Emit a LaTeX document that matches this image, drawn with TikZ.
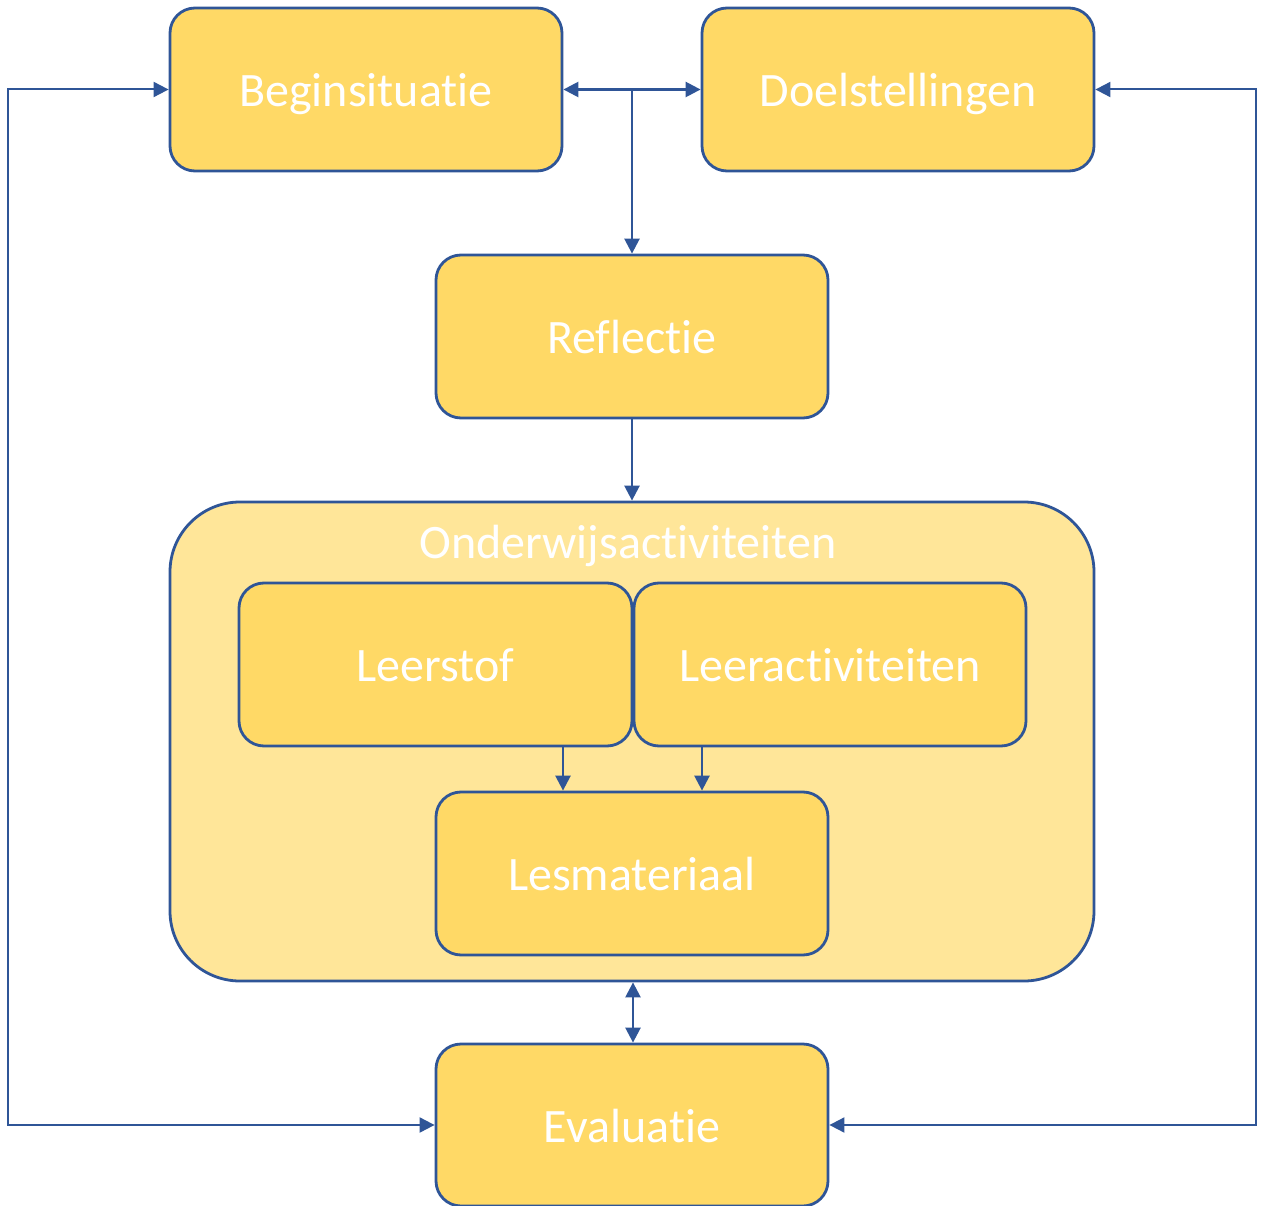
\documentclass[tikz,border=0pt]{standalone}
\usepackage{fontspec}
\setmainfont{Carlito}[Ligatures=NoCommon]
\usetikzlibrary{arrows.meta,calc}
\definecolor{boxfill}{HTML}{FFD966}
\definecolor{contfill}{HTML}{FFE699}
\definecolor{edge}{HTML}{2F5597}
\begin{document}
\begin{tikzpicture}[x=1pt,y=-1pt,
  stepbox/.style={draw=edge,line width=2.8pt,fill=boxfill,rounded corners=25pt,
    minimum width=392pt,minimum height=163pt,inner sep=0pt,text=white,
    font=\fontsize{48}{56}\selectfont,text height=40pt,text depth=6pt},
  container/.style={draw=edge,line width=2.8pt,fill=contfill,rounded corners=70pt,
    minimum width=924pt,minimum height=479pt,inner sep=0pt},
  lbl/.style={text=white,font=\fontsize{48}{56}\selectfont,inner sep=0pt,
    text height=40pt,text depth=6pt},
  arr/.style={draw=edge,line width=2.5pt,-{Triangle[length=15pt,width=15pt]}},
  darr/.style={draw=edge,line width=2.5pt,{Triangle[length=15pt,width=15pt]}-{Triangle[length=15pt,width=15pt]}},
  loop/.style={draw=edge,line width=2pt,{Triangle[length=15pt,width=15pt]}-{Triangle[length=15pt,width=15pt]}}
]
\useasboundingbox (0,0) rectangle (1264,1206);
\node[container] (C) at (632,741.5) {};
\node[lbl] (Ct) at (628,541) {Onderwijsactiviteiten};
\node[stepbox] (B) at (366,89.5) {Beginsituatie};
\node[stepbox] (D) at (898,89.5) {Doelstellingen};
\node[stepbox] (R) at (632,336.5) {Reflectie};
\node[stepbox,minimum width=393pt] (LS) at (435.5,664.5) {Leerstof};
\node[stepbox] (LA) at (830,664.5) {Leeractiviteiten};
\node[stepbox] (LM) at (632,873.5) {Lesmateriaal};
\node[stepbox,minimum height=162pt] (E) at (632,1125) {Evaluatie};
% connectors
\coordinate (J) at (632,89.5);
\coordinate (LSo) at ([xshift=127.5pt]LS.south);
\coordinate (LAo) at ([xshift=-128pt]LA.south);
\coordinate (Co) at ([xshift=1pt]C.south);
\draw[darr] (B.east) -- (D.west);
\draw[arr] (J) -- (R.north);
\draw[arr] (R.south) -- (C.north);
\draw[arr] (LSo) -- (LM.north -| LSo);
\draw[arr] (LAo) -- (LM.north -| LAo);
\draw[darr] (Co) -- (E.north -| Co);
\coordinate (L1) at (8,89.5);
\coordinate (L2) at (8,1125);
\coordinate (R1) at (1256,89.5);
\coordinate (R2) at (1256,1125);
\draw[loop] (B.west) -- (L1) -- (L2) -- (E.west);
\draw[loop] (D.east) -- (R1) -- (R2) -- (E.east);
\end{tikzpicture}
\end{document}
